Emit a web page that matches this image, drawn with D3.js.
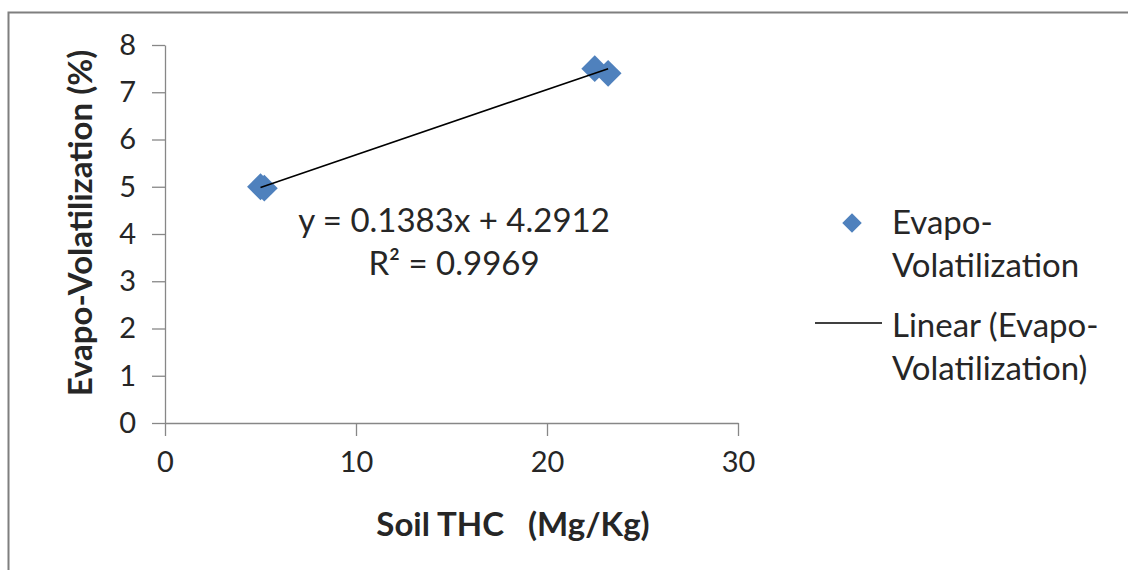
<!DOCTYPE html>
<html>
<head>
<meta charset="utf-8">
<script src="https://cdn.jsdelivr.net/npm/d3@7"></script>
<style>
  body { margin: 0; background: #fff; }
  text { font-family: Lato, "Open Sans", sans-serif; fill: #262626; }
</style>
</head>
<body>
<div id="chart"></div>
<script>
// data
var soilTHC = [5.0, 5.2, 22.5, 23.2];
var evapoVol = [5.0, 4.97, 7.5, 7.4];
var xTicks = [0, 10, 20, 30];
var yTicks = [0, 1, 2, 3, 4, 5, 6, 7, 8];
var trendSlope = 0.1383, trendIntercept = 4.2912;
var eqLines = ["y = 0.1383x + 4.2912", "R\u00b2 = 0.9969"];
var legendLines = [["Evapo-", "Volatilization"], ["Linear (Evapo-", "Volatilization)"]];

var width = 1128, height = 570;
var margin = {top: 45, left: 165};
var plotW = 573, plotH = 378;

var svg = d3.select("#chart").append("svg")
    .attr("width", width).attr("height", height);

svg.append("rect").attr("width", width).attr("height", height).attr("fill", "#fff");

// outer frame (only left and top visible)
svg.append("path")
    .attr("d", "M8.5," + height + "V12.5H" + width)
    .attr("fill", "none").attr("stroke", "#7f7f7f").attr("stroke-width", 2);

var g = svg.append("g").attr("transform", "translate(" + margin.left + "," + margin.top + ")");

var x = d3.scaleLinear().domain([0, 30]).range([0, plotW]);
var y = d3.scaleLinear().domain([0, 8]).range([plotH, 0]);

var xAxis = g.append("g")
    .attr("transform", "translate(0," + plotH + ")")
    .call(d3.axisBottom(x).tickValues(xTicks).tickSize(13).tickSizeOuter(0).tickPadding(15));
var yAxis = g.append("g")
    .call(d3.axisLeft(y).tickValues(yTicks).tickSize(13).tickSizeOuter(0).tickPadding(16));

[xAxis, yAxis].forEach(function(a) {
    a.attr("font-family", null).attr("font-size", null);
    a.selectAll("path, line").attr("stroke", "#878787").attr("stroke-width", 1.3);
    a.selectAll("text").attr("font-size", 29).attr("fill", "#404040");
});

// axis titles
svg.append("text")
    .attr("transform", "translate(92,223) rotate(-90)")
    .attr("text-anchor", "middle")
    .attr("font-size", 33).attr("font-weight", "bold")
    .text("Evapo-Volatilization (%)");

svg.append("text")
    .attr("x", 513).attr("y", 536)
    .attr("text-anchor", "middle")
    .attr("font-size", 33).attr("font-weight", "bold")
    .attr("xml:space", "preserve")
    .text("Soil THC   (Mg/Kg)");

var diamond = d3.symbol().type(d3.symbolSquare).size(360);

g.selectAll("path.pt")
    .data(soilTHC.map(function(d, i) { return [d, evapoVol[i]]; }))
    .enter().append("path")
    .attr("class", "pt")
    .attr("d", diamond)
    .attr("transform", function(d) { return "translate(" + x(d[0]) + "," + y(d[1]) + ") rotate(45)"; })
    .attr("fill", "#4f81bd");

// trendline over the data range, on top of markers
var xExt = d3.extent(soilTHC);
g.append("line")
    .attr("x1", x(xExt[0])).attr("y1", y(trendSlope * xExt[0] + trendIntercept))
    .attr("x2", x(xExt[1])).attr("y2", y(trendSlope * xExt[1] + trendIntercept))
    .attr("stroke", "#000").attr("stroke-width", 1.6);

// equation label
svg.selectAll("text.eq")
    .data(eqLines)
    .enter().append("text")
    .attr("class", "eq")
    .attr("x", 454)
    .attr("y", function(d, i) { return 232 + i * 43; })
    .attr("text-anchor", "middle")
    .attr("font-size", 33)
    .text(function(d) { return d; });

// legend
var legend = svg.append("g");
legend.append("path")
    .attr("d", d3.symbol().type(d3.symbolSquare).size(190))
    .attr("transform", "translate(852,223) rotate(45)")
    .attr("fill", "#4f81bd");
legend.append("line")
    .attr("x1", 815).attr("x2", 882).attr("y1", 323).attr("y2", 323)
    .attr("stroke", "#000").attr("stroke-width", 1.6);

legendLines.forEach(function(lines, k) {
    legend.selectAll("text.l" + k)
        .data(lines)
        .enter().append("text")
        .attr("x", 892)
        .attr("y", function(d, i) { return 234 + k * 103 + i * 43; })
        .attr("font-size", 33)
        .text(function(d) { return d; });
});
</script>
</body>
</html>
